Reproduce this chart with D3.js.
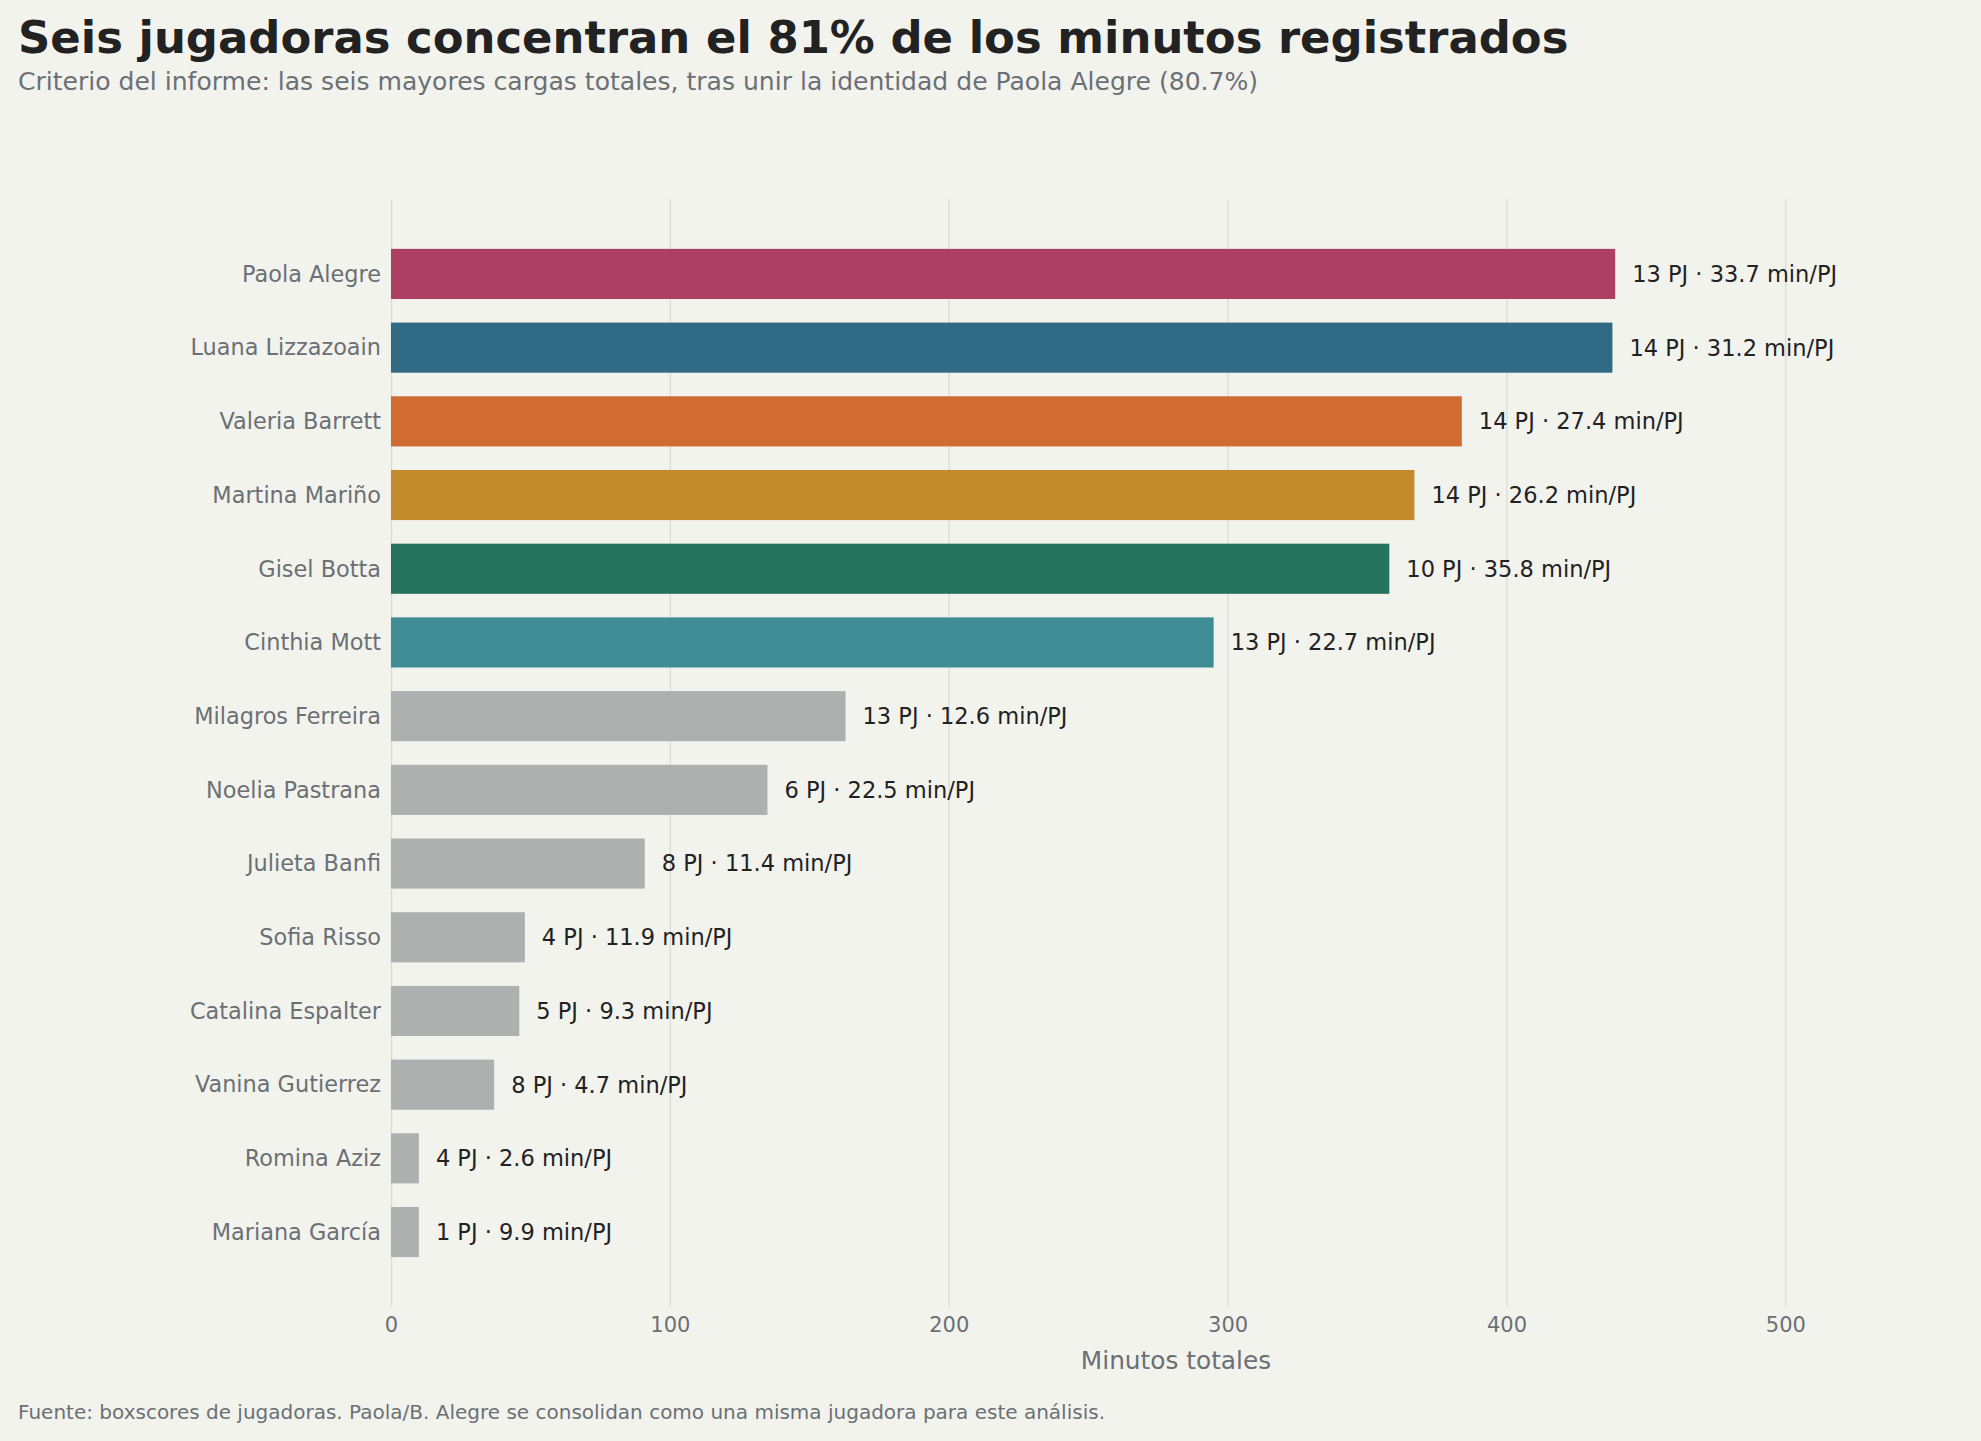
<!doctype html>
<html>
  <head>
    <meta charset="utf-8">
    <title>Minutos totales</title>
    <script src="https://cdn.jsdelivr.net/npm/d3@7"></script>
    <style>
      body { margin: 0; background: #f3f3ee; }
      svg { display: block; font-family: "DejaVu Sans", sans-serif; }
    </style>
  </head>
  <body>
  <script>

  // data
  var players = ["Paola Alegre", "Luana Lizzazoain", "Valeria Barrett", "Martina Mariño",
    "Gisel Botta", "Cinthia Mott", "Milagros Ferreira", "Noelia Pastrana", "Julieta Banfi",
    "Sofia Risso", "Catalina Espalter", "Vanina Gutierrez", "Romina Aziz", "Mariana García"];
  var minutes = [439, 438, 384, 367, 358, 295, 163, 135, 91, 48, 46, 37, 10, 10];
  var games = [13, 14, 14, 14, 10, 13, 13, 6, 8, 4, 5, 8, 4, 1];
  var perGame = ["33.7", "31.2", "27.4", "26.2", "35.8", "22.7", "12.6", "22.5", "11.4", "11.9", "9.3", "4.7", "2.6", "9.9"];
  var xTicks = [0, 100, 200, 300, 400, 500];

  var colors = {
    "Paola Alegre": "#ad3f65",
    "Luana Lizzazoain": "#316a84",
    "Valeria Barrett": "#d06b31",
    "Martina Mariño": "#c28a2b",
    "Gisel Botta": "#25725d",
    "Cinthia Mott": "#3f8c95"
  };
  var grey = "#adb0af";

  var width = 1981, height = 1441;
  var plotLeft = 391, plotRight = 1961, plotTop = 199.5, plotBottom = 1306.5;

  var svg = d3.select('body').append('svg')
    .attr('width', width).attr('height', height);

  svg.append('rect').attr('width', width).attr('height', height).attr('fill', '#f3f3ee');

  var x = d3.scaleLinear().domain([0, 563]).range([plotLeft, plotRight]);
  var y = d3.scaleBand().domain(players).range([plotTop, plotBottom])
    .paddingInner(0.32).paddingOuter(0.67);

  // grid + x axis
  var xAxis = svg.append('g')
    .attr('transform', 'translate(0,' + plotBottom + ')')
    .call(d3.axisBottom(x).tickValues(xTicks).tickSize(-(plotBottom - plotTop)).tickPadding(11));
  xAxis.select('.domain').remove();
  xAxis.selectAll('.tick line').attr('stroke', '#dcdcd7').attr('stroke-width', 1.3);
  xAxis.selectAll('.tick text').attr('fill', '#6b7075').style('font-size', '21px')
    .attr('font-family', '"DejaVu Sans", sans-serif');

  // bars
  var data = players.map(function (p, i) {
    return { name: p, value: minutes[i], pj: games[i], mpj: perGame[i] };
  });

  svg.selectAll('rect.bar').data(data).enter()
    .append('rect')
    .attr('class', 'bar')
    .attr('x', x(0))
    .attr('y', function (d) { return y(d.name); })
    .attr('width', function (d) { return x(d.value) - x(0); })
    .attr('height', y.bandwidth())
    .attr('fill', function (d) { return colors[d.name] || grey; });

  // value labels
  svg.selectAll('text.val').data(data).enter()
    .append('text')
    .attr('class', 'val')
    .attr('x', function (d) { return x(d.value) + 17; })
    .attr('y', function (d) { return y(d.name) + y.bandwidth() / 2; })
    .attr('dy', '0.35em')
    .attr('fill', '#222222')
    .style('font-size', '22.5px')
    .text(function (d) { return d.pj + ' PJ · ' + d.mpj + ' min/PJ'; });

  // y labels
  svg.selectAll('text.name').data(data).enter()
    .append('text')
    .attr('class', 'name')
    .attr('x', plotLeft - 10)
    .attr('y', function (d) { return y(d.name) + y.bandwidth() / 2; })
    .attr('dy', '0.35em')
    .attr('text-anchor', 'end')
    .attr('fill', '#6b7075')
    .style('font-size', '22.4px')
    .text(function (d) { return d.name; });

  // axis title
  svg.append('text')
    .attr('x', (plotLeft + plotRight) / 2).attr('y', 1369)
    .attr('text-anchor', 'middle')
    .attr('fill', '#6b7075')
    .style('font-size', '24.8px')
    .text('Minutos totales');

  // titles
  svg.append('text')
    .attr('x', 18).attr('y', 53)
    .attr('fill', '#222222')
    .style('font-size', '44.9px').style('font-weight', 'bold')
    .text('Seis jugadoras concentran el 81% de los minutos registrados');

  svg.append('text')
    .attr('x', 18).attr('y', 90)
    .attr('fill', '#6b7075')
    .style('font-size', '25.05px')
    .text('Criterio del informe: las seis mayores cargas totales, tras unir la identidad de Paola Alegre (80.7%)');

  svg.append('text')
    .attr('x', 18).attr('y', 1419)
    .attr('fill', '#6b7075')
    .style('font-size', '20px')
    .text('Fuente: boxscores de jugadoras. Paola/B. Alegre se consolidan como una misma jugadora para este análisis.');

  </script>
  </body>
</html>
